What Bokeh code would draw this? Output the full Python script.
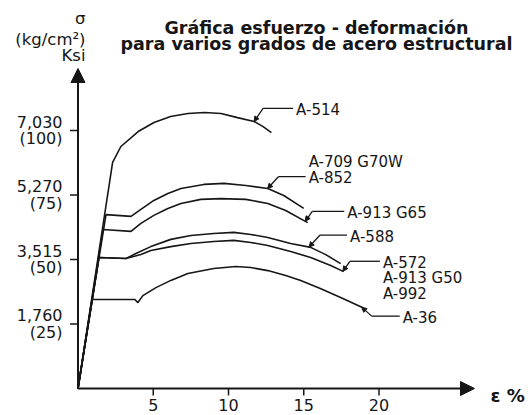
import numpy as np
from bokeh.plotting import figure
from bokeh.models import Label, Arrow, NormalHead, Range1d, ColumnDataSource
from bokeh.core.properties import value
from bokeh.embed import file_html
from bokeh.resources import INLINE

# ---------------- data ----------------
title_lines = ["Gráfica esfuerzo - deformación", "para varios grados de acero estructural"]
y_header = ["σ", "(kg/cm²)", "Ksi"]
x_header = "ε %"

x_ticks = [5, 10, 15, 20]
y_ticks_ksi = [25, 50, 75, 100]
y_ticks_kg = ["1,760", "3,515", "5,270", "7,030"]

a514_eps = [0, 2.3, 2.85, 4.0, 5.05, 6.15, 7.3, 8.4, 9.5, 10.6, 11.7, 12.3, 12.85]
a514_ksi = [0, 87.6, 93.8, 99.6, 103.1, 105.4, 106.6, 107.0, 106.6, 105.0, 103.5, 101.5, 99.2]

a852_eps = [0, 1.86, 3.52, 4.18, 5.04, 5.97, 6.84, 8.36, 9.69, 11.15, 12.61, 13.67, 15.0]
a852_ksi = [0, 67.4, 66.7, 69.4, 72.9, 75.6, 77.5, 79.1, 79.5, 78.7, 77.5, 74.8, 69.8]

a913g65_eps = [0, 1.66, 3.52, 4.18, 5.04, 5.97, 6.84, 8.16, 9.49, 11.15, 12.61, 13.8, 15.26]
a913g65_ksi = [0, 61.6, 60.9, 64.0, 67.1, 69.8, 71.7, 73.3, 73.6, 73.3, 71.7, 69.0, 64.3]

a588_eps = [0, 1.39, 3.19, 3.85, 4.84, 6.17, 7.5, 9.02, 10.35, 11.48, 12.61, 14.13, 15.46, 16.46, 17.45]
a588_ksi = [0, 50.8, 50.4, 52.3, 55.0, 57.8, 59.3, 60.1, 60.5, 59.7, 58.5, 56.2, 54.7, 51.9, 48.4]

a572_eps = [0, 1.39, 3.19, 4.18, 4.84, 6.17, 7.5, 9.02, 10.35, 11.48, 12.61, 14.13, 15.46, 16.79, 17.65]
a572_ksi = [0, 50.8, 50.4, 51.9, 53.5, 55.0, 56.2, 57.0, 57.4, 56.6, 55.4, 53.1, 50.8, 47.7, 45.3]

a36_eps = [0, 0.93, 3.78, 3.98, 4.31, 5.18, 6.17, 7.3, 9.02, 10.48, 11.48, 12.61, 13.8, 14.8, 16.1, 17.45, 18.9]
a36_ksi = [0, 34.5, 34.5, 33.3, 36.0, 39.1, 41.9, 44.6, 46.5, 47.3, 46.9, 45.7, 43.8, 41.9, 38.8, 35.3, 31.4]

curve_labels = [["A-514"], ["A-709 G70W", "A-852"], ["A-913 G65"], ["A-588"],
                ["A-572", "A-913 G50", "A-992"], ["A-36"]]
curves = [(a514_eps, a514_ksi), (a852_eps, a852_ksi), (a913g65_eps, a913g65_ksi),
          (a588_eps, a588_ksi), (a572_eps, a572_ksi), (a36_eps, a36_ksi)]
anchor_eps = [11.7, 12.6, 15.1, 15.35, 17.6, 18.85]

# ---------------- layout / style ----------------
W, H = 528, 415
OX, OY = 77.5, 388.0   # canvas px of the origin
SX = 15.05             # px per % strain
SY = 2.58              # px per ksi
INK = "#161616"
FONT = "DejaVu Sans"

def ex(px):  # canvas x -> data
    return (px - OX) / SX

def ky(py):  # canvas y -> data
    return (OY - py) / SY

# leader: (dx px, dy px up, horizontal length px, index of line on leader, line spacing px)
leaders = [(9, 13, 30, 0, 16), (11, 12, 27, 1, 16), (7, 10, 32, 0, 16),
           (11, 12, 27, 0, 16), (7, 10, 30, 0, 15.5), (10, -9, 28, 0, 16)]

p = figure(width=W, height=H, output_backend="svg", toolbar_location=None,
           x_range=Range1d(ex(0), ex(W)), y_range=Range1d(ky(H), ky(0)),
           min_border=0, x_axis_location=None, y_axis_location=None, title=None)
p.outline_line_color = None
p.grid.visible = False
p.background_fill_color = "white"
p.border_fill_color = "white"

# axes with arrow heads
p.add_layout(Arrow(end=NormalHead(size=14, fill_color=INK, line_color=INK),
                   x_start=0, y_start=0, x_end=0, y_end=ky(68),
                   line_width=2, line_color=INK))
p.add_layout(Arrow(end=NormalHead(size=14, fill_color=INK, line_color=INK),
                   x_start=0, y_start=0, x_end=ex(474), y_end=0,
                   line_width=2, line_color=INK))

# ticks
p.segment(x0=x_ticks, y0=[0] * len(x_ticks), x1=x_ticks, y1=[-7 / SY] * len(x_ticks),
          line_color=INK, line_width=1.5)
p.segment(x0=[0] * len(y_ticks_ksi), y0=y_ticks_ksi, x1=[-8 / SX] * len(y_ticks_ksi),
          y1=y_ticks_ksi, line_color=INK, line_width=1.5)

# tick labels
xt = ColumnDataSource(dict(x=x_ticks, y=[-16 / SY] * len(x_ticks), text=[str(t) for t in x_ticks]))
p.text("x", "y", "text", source=xt, text_font=value(FONT), text_font_size="16px",
       text_color=INK, text_align="center", text_baseline="alphabetic")
yl_x = [ex(62)] * (2 * len(y_ticks_ksi))
yl_y = [v + 9 / SY for v in y_ticks_ksi] + [v - 8 / SY for v in y_ticks_ksi]
yl_t = list(y_ticks_kg) + [f"({v})" for v in y_ticks_ksi]
yt = ColumnDataSource(dict(x=yl_x, y=yl_y, text=yl_t))
p.text("x", "y", "text", source=yt, text_font=value(FONT), text_font_size="16px",
       text_color=INK, text_align="right", text_baseline="middle")

# curves
for e, s in curves:
    p.line(e, s, line_color=INK, line_width=1.6)

# leaders and labels
tx, ty, tt = [], [], []
for (e, s), a, lines, (dx, dy, ln, idx, sp) in zip(curves, anchor_eps, curve_labels, leaders):
    ay = float(np.interp(a, e, s))
    axp = OX + a * SX
    ayp = OY - ay * SY
    elx, ely = axp + dx, ayp - dy
    endx = elx + ln
    p.line([ex(elx), ex(endx)], [ky(ely), ky(ely)], line_color=INK, line_width=1.3)
    p.add_layout(Arrow(end=NormalHead(size=5, fill_color=INK, line_color=INK),
                       x_start=ex(elx), y_start=ky(ely), x_end=a, y_end=ay,
                       line_width=1.3, line_color=INK))
    for i, t in enumerate(lines):
        tx.append(ex(endx + 3))
        ty.append(ky(ely + 1.5 + (i - idx) * sp))
        tt.append(t)
src = ColumnDataSource(dict(x=tx, y=ty, text=tt))
p.text("x", "y", "text", source=src, text_font=value(FONT), text_font_size="15px",
       text_color=INK, text_align="left", text_baseline="middle")

# title
for line, base in zip(title_lines, [27, 43]):
    p.add_layout(Label(x=ex(316), y=ky(base), text=line, text_font=FONT,
                       text_font_size="17.5px", text_font_style="bold", text_color=INK,
                       text_align="center", text_baseline="alphabetic"))
# y header
for line, base in zip(y_header, [18, 39, 55]):
    p.add_layout(Label(x=ex(85), y=ky(base), text=line, text_font=FONT,
                       text_font_size="16.5px", text_color=INK,
                       text_align="right", text_baseline="alphabetic"))
# x header
p.add_layout(Label(x=ex(490), y=ky(395), text=x_header, text_font=FONT,
                   text_font_size="18px", text_font_style="bold", text_color=INK,
                   text_align="left", text_baseline="alphabetic"))

open("out.html", "w").write(file_html(p, INLINE))
